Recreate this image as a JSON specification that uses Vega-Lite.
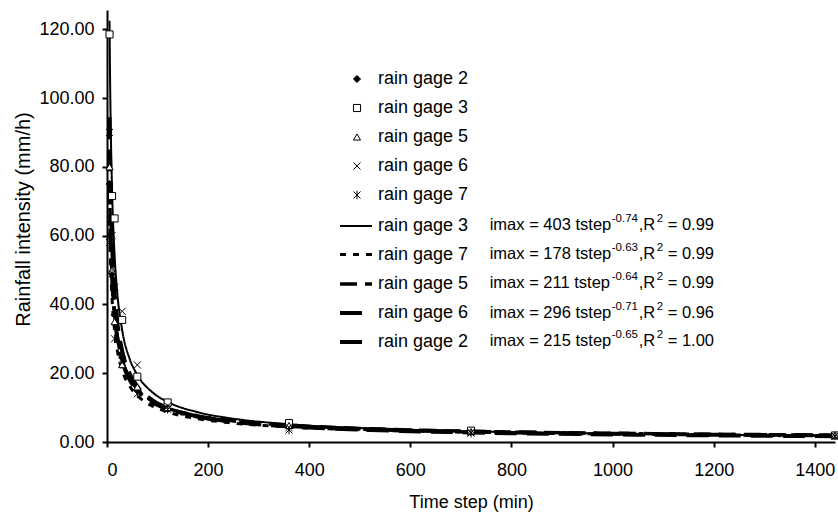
{
  "$schema": "https://vega.github.io/schema/vega-lite/v6.json",
  "width": 728,
  "height": 432,
  "autosize": {"type": "none"},
  "padding": {"left": 107, "top": 10, "right": 3, "bottom": 73},
  "background": "white",
  "config": {
    "view": {"stroke": null},
    "font": "Liberation Sans",
    "axis": {
      "domainColor": "black", "domainWidth": 2,
      "tickColor": "black", "tickWidth": 2, "tickSize": 5,
      "labelColor": "black", "labelFontSize": 18, "labelFont": "Liberation Sans",
      "titleFont": "Liberation Sans", "titleFontSize": 18, "titleFontWeight": "normal", "titleColor": "black",
      "grid": false
    }
  },
  "datasets": {
    "obs": [
      {"gage": "rain gage 2", "t": 5, "i": 75}, {"gage": "rain gage 2", "t": 10, "i": 49}, {"gage": "rain gage 2", "t": 15, "i": 37}, {"gage": "rain gage 2", "t": 30, "i": 24.5}, {"gage": "rain gage 2", "t": 60, "i": 15}, {"gage": "rain gage 2", "t": 120, "i": 9.6}, {"gage": "rain gage 2", "t": 360, "i": 4.6}, {"gage": "rain gage 2", "t": 720, "i": 3.0}, {"gage": "rain gage 2", "t": 1440, "i": 1.9},
      {"gage": "rain gage 3", "t": 5, "i": 118.5}, {"gage": "rain gage 3", "t": 10, "i": 71.5}, {"gage": "rain gage 3", "t": 15, "i": 65}, {"gage": "rain gage 3", "t": 30, "i": 35.5}, {"gage": "rain gage 3", "t": 60, "i": 19}, {"gage": "rain gage 3", "t": 120, "i": 11.5}, {"gage": "rain gage 3", "t": 360, "i": 5.5}, {"gage": "rain gage 3", "t": 720, "i": 3.3}, {"gage": "rain gage 3", "t": 1440, "i": 1.9},
      {"gage": "rain gage 5", "t": 5, "i": 80}, {"gage": "rain gage 5", "t": 10, "i": 50}, {"gage": "rain gage 5", "t": 15, "i": 35}, {"gage": "rain gage 5", "t": 30, "i": 22.5}, {"gage": "rain gage 5", "t": 60, "i": 16}, {"gage": "rain gage 5", "t": 120, "i": 10}, {"gage": "rain gage 5", "t": 360, "i": 4.8}, {"gage": "rain gage 5", "t": 720, "i": 3.0}, {"gage": "rain gage 5", "t": 1440, "i": 2.0},
      {"gage": "rain gage 6", "t": 5, "i": 90}, {"gage": "rain gage 6", "t": 10, "i": 60}, {"gage": "rain gage 6", "t": 15, "i": 45}, {"gage": "rain gage 6", "t": 30, "i": 38}, {"gage": "rain gage 6", "t": 60, "i": 22.4}, {"gage": "rain gage 6", "t": 120, "i": 10.5}, {"gage": "rain gage 6", "t": 360, "i": 4.2}, {"gage": "rain gage 6", "t": 720, "i": 2.8}, {"gage": "rain gage 6", "t": 1440, "i": 1.6},
      {"gage": "rain gage 7", "t": 5, "i": 58}, {"gage": "rain gage 7", "t": 10, "i": 49}, {"gage": "rain gage 7", "t": 15, "i": 30}, {"gage": "rain gage 7", "t": 30, "i": 24}, {"gage": "rain gage 7", "t": 60, "i": 14}, {"gage": "rain gage 7", "t": 120, "i": 9.5}, {"gage": "rain gage 7", "t": 360, "i": 3.5}, {"gage": "rain gage 7", "t": 720, "i": 2.6}, {"gage": "rain gage 7", "t": 1440, "i": 1.8}
    ],
    "fit": [
      {"curve": "g3", "t": 5, "i": 122.48}, {"curve": "g3", "t": 6, "i": 107.02}, {"curve": "g3", "t": 8, "i": 86.50}, {"curve": "g3", "t": 10, "i": 73.33}, {"curve": "g3", "t": 15, "i": 54.33}, {"curve": "g3", "t": 20, "i": 43.91}, {"curve": "g3", "t": 30, "i": 32.53}, {"curve": "g3", "t": 45, "i": 24.09}, {"curve": "g3", "t": 60, "i": 19.48}, {"curve": "g3", "t": 90, "i": 14.43}, {"curve": "g3", "t": 120, "i": 11.66}, {"curve": "g3", "t": 180, "i": 8.638}, {"curve": "g3", "t": 240, "i": 6.982}, {"curve": "g3", "t": 360, "i": 5.172}, {"curve": "g3", "t": 540, "i": 3.831}, {"curve": "g3", "t": 720, "i": 3.097}, {"curve": "g3", "t": 1080, "i": 2.294}, {"curve": "g3", "t": 1440, "i": 1.854},
      {"curve": "g7", "t": 5, "i": 64.57}, {"curve": "g7", "t": 6, "i": 57.57}, {"curve": "g7", "t": 8, "i": 48.03}, {"curve": "g7", "t": 10, "i": 41.73}, {"curve": "g7", "t": 15, "i": 32.32}, {"curve": "g7", "t": 20, "i": 26.96}, {"curve": "g7", "t": 30, "i": 20.88}, {"curve": "g7", "t": 45, "i": 16.18}, {"curve": "g7", "t": 60, "i": 13.50}, {"curve": "g7", "t": 90, "i": 10.45}, {"curve": "g7", "t": 120, "i": 8.720}, {"curve": "g7", "t": 180, "i": 6.755}, {"curve": "g7", "t": 240, "i": 5.635}, {"curve": "g7", "t": 360, "i": 4.365}, {"curve": "g7", "t": 540, "i": 3.381}, {"curve": "g7", "t": 720, "i": 2.820}, {"curve": "g7", "t": 1080, "i": 2.185}, {"curve": "g7", "t": 1440, "i": 1.822},
      {"curve": "g5", "t": 5, "i": 75.33}, {"curve": "g5", "t": 6, "i": 67.03}, {"curve": "g5", "t": 8, "i": 55.76}, {"curve": "g5", "t": 10, "i": 48.34}, {"curve": "g5", "t": 15, "i": 37.29}, {"curve": "g5", "t": 20, "i": 31.02}, {"curve": "g5", "t": 30, "i": 23.93}, {"curve": "g5", "t": 45, "i": 18.46}, {"curve": "g5", "t": 60, "i": 15.36}, {"curve": "g5", "t": 90, "i": 11.85}, {"curve": "g5", "t": 120, "i": 9.854}, {"curve": "g5", "t": 180, "i": 7.602}, {"curve": "g5", "t": 240, "i": 6.323}, {"curve": "g5", "t": 360, "i": 4.878}, {"curve": "g5", "t": 540, "i": 3.763}, {"curve": "g5", "t": 720, "i": 3.130}, {"curve": "g5", "t": 1080, "i": 2.415}, {"curve": "g5", "t": 1440, "i": 2.009},
      {"curve": "g6", "t": 5, "i": 94.41}, {"curve": "g6", "t": 6, "i": 82.95}, {"curve": "g6", "t": 8, "i": 67.62}, {"curve": "g6", "t": 10, "i": 57.72}, {"curve": "g6", "t": 15, "i": 43.28}, {"curve": "g6", "t": 20, "i": 35.28}, {"curve": "g6", "t": 30, "i": 26.46}, {"curve": "g6", "t": 45, "i": 19.84}, {"curve": "g6", "t": 60, "i": 16.17}, {"curve": "g6", "t": 90, "i": 12.13}, {"curve": "g6", "t": 120, "i": 9.887}, {"curve": "g6", "t": 180, "i": 7.414}, {"curve": "g6", "t": 240, "i": 6.044}, {"curve": "g6", "t": 360, "i": 4.532}, {"curve": "g6", "t": 540, "i": 3.399}, {"curve": "g6", "t": 720, "i": 2.771}, {"curve": "g6", "t": 1080, "i": 2.078}, {"curve": "g6", "t": 1440, "i": 1.694},
      {"curve": "g2", "t": 5, "i": 75.53}, {"curve": "g2", "t": 6, "i": 67.09}, {"curve": "g2", "t": 8, "i": 55.65}, {"curve": "g2", "t": 10, "i": 48.13}, {"curve": "g2", "t": 15, "i": 36.98}, {"curve": "g2", "t": 20, "i": 30.67}, {"curve": "g2", "t": 30, "i": 23.57}, {"curve": "g2", "t": 45, "i": 18.11}, {"curve": "g2", "t": 60, "i": 15.02}, {"curve": "g2", "t": 90, "i": 11.54}, {"curve": "g2", "t": 120, "i": 9.571}, {"curve": "g2", "t": 180, "i": 7.354}, {"curve": "g2", "t": 240, "i": 6.100}, {"curve": "g2", "t": 360, "i": 4.686}, {"curve": "g2", "t": 540, "i": 3.601}, {"curve": "g2", "t": 720, "i": 2.987}, {"curve": "g2", "t": 1080, "i": 2.295}, {"curve": "g2", "t": 1440, "i": 1.903}
    ],
    "eq": [
      {"curve": "g3", "t": 757, "i": 63.1, "base": "imax = 403 tstep", "exp": "-0.74", "r2": "= 0.99"},
      {"curve": "g7", "t": 757, "i": 54.6, "base": "imax = 178 tstep", "exp": "-0.63", "r2": "= 0.99"},
      {"curve": "g5", "t": 757, "i": 46.2, "base": "imax = 211 tstep", "exp": "-0.64", "r2": "= 0.99"},
      {"curve": "g6", "t": 757, "i": 37.5, "base": "imax = 296 tstep", "exp": "-0.71", "r2": "= 0.96"},
      {"curve": "g2", "t": 757, "i": 29.4, "base": "imax = 215 tstep", "exp": "-0.65", "r2": "= 1.00"}
    ]
  },
  "encoding": {
    "x": {
      "field": "t", "type": "quantitative",
      "scale": {"domain": [0, 1440], "nice": false, "zero": false},
      "axis": {"values": [0, 200, 400, 600, 800, 1000, 1200, 1400], "format": "d", "title": "Time step (min)", "labelPadding": 14, "titlePadding": 14}
    },
    "y": {
      "field": "i", "type": "quantitative",
      "scale": {"domain": [0, 125.6], "nice": false},
      "axis": {"values": [0, 20, 40, 60, 80, 100, 120], "format": ".2f", "title": "Rainfall intensity (mm/h)", "titleFontSize": 20, "titleY": 209, "labelPadding": 8, "titlePadding": 5}
    }
  },
  "layer": [
    {
      "data": {"name": "fit"},
      "mark": {"type": "line", "color": "black", "interpolate": "monotone"},
      "encoding": {
        "strokeDash": {
          "field": "curve", "type": "nominal",
          "scale": {"domain": ["g3", "g7", "g5", "g6", "g2"], "range": [[1, 0], [6, 7], [17, 8], [22, 10], [22, 10, 4, 10]]},
          "legend": {"title": null, "orient": "none", "legendX": 231, "legendY": 199, "padding": 0, "symbolType": "stroke", "symbolSize": 1024, "symbolStrokeColor": "black", "labelFont": "Liberation Sans", "labelFontSize": 18, "labelColor": "black", "labelOffset": 4, "rowPadding": 2, "labelExpr": "'rain gage ' + substring(datum.label, 1, 2)"}
        },
        "strokeWidth": {
          "field": "curve", "type": "nominal",
          "scale": {"type": "ordinal", "domain": ["g3", "g7", "g5", "g6", "g2"], "range": [2, 3, 3.5, 4, 4]},
          "legend": {"title": null, "orient": "none", "legendX": 231, "legendY": 199, "padding": 0, "symbolType": "stroke", "symbolSize": 1024, "symbolStrokeColor": "black", "labelFont": "Liberation Sans", "labelFontSize": 18, "labelColor": "black", "labelOffset": 4, "rowPadding": 2, "labelExpr": "'rain gage ' + substring(datum.label, 1, 2)"}
        }
      }
    },
    {
      "data": {"name": "obs"},
      "mark": {"type": "point", "strokeWidth": 1, "opacity": 1},
      "encoding": {
        "shape": {
          "field": "gage", "type": "nominal",
          "scale": {"domain": ["rain gage 2", "rain gage 3", "rain gage 5", "rain gage 6", "rain gage 7"], "range": ["diamond", "square", "triangle-up", "M-1,-1L1,1M-1,1L1,-1", "M-1,-1L1,1M-1,1L1,-1M0,-1.2L0,1.2"]},
          "legend": {"title": null, "orient": "none", "legendX": 241, "legendY": 60, "padding": 0, "symbolSize": 50, "symbolStrokeWidth": 1, "symbolOpacity": 1, "labelFont": "Liberation Sans", "labelFontSize": 18, "labelColor": "black", "labelOffset": 12, "rowPadding": 11}
        },
        "fill": {
          "field": "gage", "type": "nominal",
          "scale": {"domain": ["rain gage 2", "rain gage 3", "rain gage 5", "rain gage 6", "rain gage 7"], "range": ["black", "white", "white", "white", "white"]},
          "legend": {"title": null, "orient": "none", "legendX": 241, "legendY": 60, "padding": 0, "symbolSize": 50, "symbolStrokeWidth": 1, "symbolOpacity": 1, "labelFont": "Liberation Sans", "labelFontSize": 18, "labelColor": "black", "labelOffset": 12, "rowPadding": 11}
        },
        "stroke": {
          "field": "gage", "type": "nominal",
          "scale": {"domain": ["rain gage 2", "rain gage 3", "rain gage 5", "rain gage 6", "rain gage 7"], "range": ["black", "black", "black", "black", "black"]},
          "legend": {"title": null, "orient": "none", "legendX": 241, "legendY": 60, "padding": 0, "symbolSize": 50, "symbolStrokeWidth": 1, "symbolOpacity": 1, "labelFont": "Liberation Sans", "labelFontSize": 18, "labelColor": "black", "labelOffset": 12, "rowPadding": 11}
        },
        "size": {"value": 50}
      }
    },
    {
      "data": {"name": "eq"},
      "mark": {"type": "text", "align": "left", "baseline": "middle", "fontSize": 16.5, "font": "Liberation Sans", "color": "black"},
      "encoding": {"text": {"field": "base"}}
    },
    {
      "data": {"name": "eq"},
      "mark": {"type": "text", "align": "left", "baseline": "middle", "fontSize": 11.5, "font": "Liberation Sans", "color": "black", "dx": 122, "dy": -6},
      "encoding": {"text": {"field": "exp"}}
    },
    {
      "data": {"name": "eq"},
      "mark": {"type": "text", "align": "left", "baseline": "middle", "fontSize": 16.5, "font": "Liberation Sans", "color": "black", "dx": 149},
      "encoding": {"text": {"value": ",R"}}
    },
    {
      "data": {"name": "eq"},
      "mark": {"type": "text", "align": "left", "baseline": "middle", "fontSize": 11.5, "font": "Liberation Sans", "color": "black", "dx": 167, "dy": -6},
      "encoding": {"text": {"value": "2"}}
    },
    {
      "data": {"name": "eq"},
      "mark": {"type": "text", "align": "left", "baseline": "middle", "fontSize": 16.5, "font": "Liberation Sans", "color": "black", "dx": 178},
      "encoding": {"text": {"field": "r2"}}
    }
  ]
}
